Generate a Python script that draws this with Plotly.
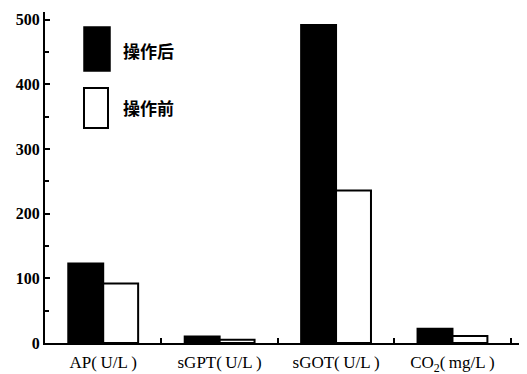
import plotly.graph_objects as go

categories = ["AP(\u2009U/L\u2009)", "sGPT(\u2009U/L\u2009)", "sGOT(\u2009U/L\u2009)", "CO<sub>2</sub>(\u2009mg/L\u2009)"]
after_values = [123, 10, 492, 22]
before_values = [92, 5, 236, 11]
y_ticks = [0, 100, 200, 300, 400, 500]
legend_labels = ["操作后", "操作前"]

# page has an 8px body margin: figure drawn from (8, 8)
OFF = 8
W, H = 527 - OFF, 374 - OFF
ML, MR, MT, MB = 45 - OFF, 7, 12 - OFF, 31

def px(x):  # page pixel -> paper fraction
    return (x - OFF - ML) / (W - ML - MR)

def py(y):
    return (H - MB - (y - OFF)) / (H - MT - MB)

fig = go.Figure()
fig.add_bar(x=categories, y=after_values, name=legend_labels[0],
            marker=dict(color="black", line=dict(color="black", width=2)))
fig.add_bar(x=categories, y=before_values, name=legend_labels[1],
            marker=dict(color="white", line=dict(color="black", width=2)))

fig.update_layout(
    width=W, height=H,
    margin=dict(l=ML, r=MR, t=MT, b=MB),
    paper_bgcolor="white", plot_bgcolor="white",
    barmode="group", bargap=0.4, bargroupgap=0,
    showlegend=False,
    font=dict(family="Liberation Serif", size=15, color="black"),
)
fig.update_xaxes(range=[-0.5, 3.58], showline=True, linecolor="black", linewidth=2,
                 ticks="inside", tickson="boundaries", ticklen=5, tickcolor="black",
                 tickwidth=2, showgrid=False, zeroline=False, automargin=False,
                 ticklabelstandoff=3,
                 tickfont=dict(family="Liberation Serif", size=17))
fig.update_yaxes(range=[0, 512], showline=True, linecolor="black", linewidth=2,
                 tickvals=y_ticks, ticks="inside", ticklen=5, tickcolor="black", tickwidth=2,
                 minor=dict(dtick=50, ticks="inside", ticklen=4, tickcolor="black", tickwidth=1.5),
                 showgrid=False, zeroline=False, automargin=False,
                 tickfont=dict(family="Liberation Serif", size=16, weight="bold"))

# legend drawn manually
fig.add_shape(type="rect", xref="paper", yref="paper",
              x0=px(84), x1=px(110), y0=py(71), y1=py(27),
              fillcolor="black", line=dict(color="black", width=1.5))
fig.add_shape(type="rect", xref="paper", yref="paper",
              x0=px(84), x1=px(108), y0=py(128), y1=py(88),
              fillcolor="white", line=dict(color="black", width=2))
for lbl, yy in zip(legend_labels, [50, 107]):
    fig.add_annotation(xref="paper", yref="paper", x=px(121), y=py(yy),
                       text="<b>" + lbl + "</b>", showarrow=False,
                       xanchor="left", yanchor="middle",
                       font=dict(family="Noto Sans CJK SC", size=17, color="black"))

fig.write_html("out.html")
